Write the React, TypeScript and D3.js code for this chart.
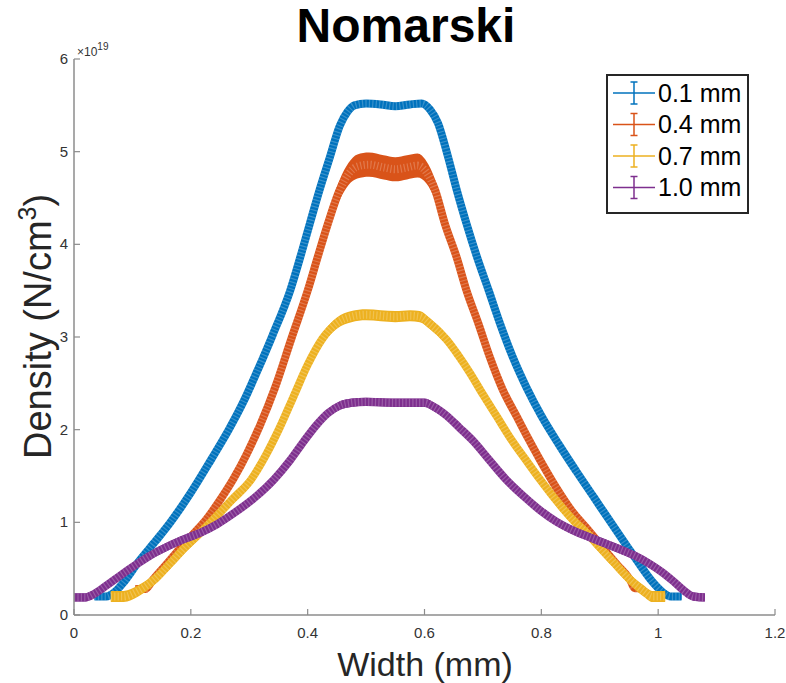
import React from 'react';
import * as d3 from 'd3';

// Density values are in units of 1e19 N/cm^3
const blueWidth = [0.035, 0.055, 0.07, 0.086, 0.11, 0.14, 0.165, 0.2, 0.235, 0.265, 0.29, 0.315, 0.34, 0.37, 0.39, 0.404, 0.42, 0.438, 0.455, 0.468, 0.48, 0.5, 0.525, 0.55, 0.575, 0.595, 0.61, 0.623, 0.64, 0.655, 0.672, 0.69, 0.71, 0.729, 0.75, 0.775, 0.8, 0.83, 0.86, 0.89, 0.92, 0.947, 0.97, 0.99, 1.007, 1.022, 1.04];
const blueDensity = [0.2, 0.2, 0.25, 0.36, 0.57, 0.8, 1.0, 1.32, 1.68, 2.0, 2.3, 2.65, 3.02, 3.5, 3.92, 4.23, 4.58, 4.94, 5.28, 5.43, 5.5, 5.52, 5.51, 5.49, 5.51, 5.52, 5.45, 5.31, 4.95, 4.59, 4.22, 3.86, 3.5, 3.15, 2.8, 2.45, 2.15, 1.84, 1.55, 1.27, 0.99, 0.74, 0.53, 0.36, 0.25, 0.2, 0.2];

const orangeWidth = [0.105, 0.122, 0.135, 0.16, 0.183, 0.205, 0.225, 0.25, 0.274, 0.296, 0.318, 0.344, 0.372, 0.4, 0.418, 0.435, 0.455, 0.47, 0.485, 0.505, 0.53, 0.55, 0.57, 0.588, 0.603, 0.618, 0.635, 0.655, 0.672, 0.692, 0.712, 0.734, 0.758, 0.778, 0.798, 0.825, 0.855, 0.88, 0.906, 0.93, 0.952, 0.96, 0.972];
const orangeDensity = [0.28, 0.28, 0.38, 0.56, 0.73, 0.88, 1.02, 1.24, 1.48, 1.74, 2.04, 2.45, 2.98, 3.5, 3.88, 4.23, 4.59, 4.76, 4.84, 4.86, 4.83, 4.81, 4.83, 4.85, 4.78, 4.59, 4.22, 3.86, 3.5, 3.15, 2.78, 2.43, 2.14, 1.9, 1.67, 1.38, 1.1, 0.92, 0.72, 0.54, 0.38, 0.29, 0.29];
const orangeError = [0.04, 0.04, 0.05, 0.05, 0.05, 0.05, 0.05, 0.05, 0.05, 0.06, 0.06, 0.06, 0.07, 0.08, 0.09, 0.1, 0.11, 0.12, 0.13, 0.13, 0.13, 0.13, 0.13, 0.13, 0.12, 0.11, 0.1, 0.09, 0.08, 0.07, 0.06, 0.06, 0.06, 0.05, 0.05, 0.05, 0.05, 0.05, 0.05, 0.05, 0.05, 0.04, 0.04];

const yellowWidth = [0.063, 0.085, 0.11, 0.137, 0.165, 0.19, 0.215, 0.24, 0.27, 0.303, 0.328, 0.352, 0.376, 0.4, 0.425, 0.45, 0.475, 0.5, 0.55, 0.575, 0.592, 0.61, 0.638, 0.658, 0.678, 0.7, 0.724, 0.75, 0.775, 0.798, 0.825, 0.855, 0.88, 0.9, 0.925, 0.952, 0.975, 0.99, 1.012];
const yellowDensity = [0.2, 0.2, 0.26, 0.38, 0.56, 0.73, 0.88, 1.04, 1.24, 1.46, 1.72, 2.02, 2.36, 2.7, 2.98, 3.15, 3.22, 3.24, 3.22, 3.23, 3.22, 3.14, 2.97, 2.8, 2.61, 2.38, 2.14, 1.88, 1.66, 1.46, 1.24, 1.02, 0.87, 0.73, 0.56, 0.38, 0.26, 0.2, 0.2];

const purpleWidth = [0.0, 0.02, 0.035, 0.056, 0.08, 0.103, 0.13, 0.154, 0.185, 0.217, 0.245, 0.274, 0.31, 0.342, 0.37, 0.394, 0.415, 0.435, 0.455, 0.475, 0.5, 0.55, 0.6, 0.615, 0.638, 0.66, 0.683, 0.71, 0.74, 0.77, 0.798, 0.825, 0.855, 0.89, 0.93, 0.96, 0.986, 1.005, 1.025, 1.045, 1.06, 1.08];
const purpleDensity = [0.19, 0.19, 0.23, 0.32, 0.43, 0.53, 0.64, 0.72, 0.81, 0.89, 0.98, 1.1, 1.27, 1.46, 1.67, 1.88, 2.05, 2.18, 2.26, 2.29, 2.3, 2.29, 2.29, 2.25, 2.15, 2.02, 1.88, 1.68, 1.46, 1.28, 1.13, 1.01, 0.91, 0.82, 0.72, 0.64, 0.55, 0.47, 0.37, 0.26, 0.2, 0.19];

const seriesLabels = ['0.1 mm', '0.4 mm', '0.7 mm', '1.0 mm'];
const seriesColors = ['#0072BD', '#D95319', '#EDB120', '#7E2F8E'];
const constError = [0.035, 0, 0.06, 0.045];

const xTicks = [0, 0.2, 0.4, 0.6, 0.8, 1, 1.2];
const yTicks = [0, 1, 2, 3, 4, 5, 6];

const FONT = '"Liberation Sans", Arial, Helvetica, sans-serif';

type Pt = { x: number; y: number; e: number };

const App: React.FC = () => {
  const width = 786;
  const height = 683;
  const xScale = d3.scaleLinear().domain([0, 1.2]).range([74, 775]);
  const yScale = d3.scaleLinear().domain([0, 6]).range([615, 59]);

  const build = (xs: number[], ys: number[], err: number[] | number): Pt[] =>
    xs.map((x, i) => ({ x, y: ys[i], e: Array.isArray(err) ? err[i] : err }));

  const series: Pt[][] = [
    build(blueWidth, blueDensity, constError[0]),
    build(orangeWidth, orangeDensity, orangeError),
    build(yellowWidth, yellowDensity, constError[2]),
    build(purpleWidth, purpleDensity, constError[3]),
  ];

  const line = d3.line<Pt>()
    .curve(d3.curveMonotoneX)
    .x(d => xScale(d.x))
    .y(d => yScale(d.y));

  const band = d3.area<Pt>()
    .curve(d3.curveMonotoneX)
    .x(d => xScale(d.x))
    .y0(d => yScale(d.y - d.e))
    .y1(d => yScale(d.y + d.e));

  const axisColor = '#8c8c8c';
  const tickColor = '#333';

  const legendX = 607;
  const legendY = 75;
  const rowH = 31.5;

  return (
    <svg width={width} height={height} style={{ position: 'absolute', left: 0, top: 0, background: '#fff' }}
      fontFamily={FONT}>
      <rect x={0} y={0} width={width} height={height} fill="#fff" />

      {/* series */}
      {series.map((pts, i) => (
        <g key={i}>
          <path d={band(pts) || ''} fill={seriesColors[i]} />
          <path d={line(pts) || ''} fill="none" stroke={seriesColors[i]} strokeWidth={8} strokeLinejoin="round" />
          <path d={line(pts) || ''} fill="none" stroke="#fff" strokeOpacity={0.22} strokeWidth={8}
            strokeDasharray="1.2 2.2" />
        </g>
      ))}

      {/* axes */}
      <line x1={xScale(0)} x2={xScale(1.2)} y1={yScale(0)} y2={yScale(0)} stroke={axisColor} strokeWidth={1.5} />
      <line x1={xScale(0)} x2={xScale(0)} y1={yScale(0)} y2={yScale(6)} stroke={axisColor} strokeWidth={1.5} />
      {xTicks.map(t => (
        <g key={'x' + t}>
          <line x1={xScale(t)} x2={xScale(t)} y1={yScale(0)} y2={yScale(0) - 6} stroke={axisColor} strokeWidth={1.2} />
          <text x={xScale(t)} y={638} textAnchor="middle" fontSize={15} fill={tickColor}>{t}</text>
        </g>
      ))}
      {yTicks.map(t => (
        <g key={'y' + t}>
          <line x1={xScale(0)} x2={xScale(0) + 6} y1={yScale(t)} y2={yScale(t)} stroke={axisColor} strokeWidth={1.2} />
          <text x={68} y={yScale(t) + 5} textAnchor="end" fontSize={15} fill={tickColor}>{t}</text>
        </g>
      ))}
      <text x={77} y={56} fontSize={12} fill={tickColor}>×10<tspan fontSize={10} dy={-6}>19</tspan></text>

      {/* title & labels */}
      <text x={406} y={42} textAnchor="middle" fontSize={48} fontWeight="bold" fill="#000">Nomarski</text>
      <text x={425} y={676} textAnchor="middle" fontSize={34} fill="#262626">Width (mm)</text>
      <text transform="translate(51,459) rotate(-90)" textAnchor="start" fontSize={38} fill="#262626">
        Density (N/cm<tspan fontSize={25} dy={-15}>3</tspan><tspan dy={15}>)</tspan>
      </text>

      {/* legend */}
      <rect x={legendX} y={legendY} width={141} height={138} fill="#fff" stroke="#262626" strokeWidth={2} />
      {seriesLabels.map((lab, i) => {
        const cy = legendY + 18 + i * rowH;
        const c = seriesColors[i];
        return (
          <g key={lab}>
            <line x1={613} x2={655} y1={cy} y2={cy} stroke={c} strokeWidth={1.5} />
            <line x1={634} x2={634} y1={cy - 11} y2={cy + 11} stroke={c} strokeWidth={1.5} />
            <line x1={630.5} x2={637.5} y1={cy - 11} y2={cy - 11} stroke={c} strokeWidth={1.5} />
            <line x1={630.5} x2={637.5} y1={cy + 11} y2={cy + 11} stroke={c} strokeWidth={1.5} />
            <text x={658} y={cy + 8.5} fontSize={25} fill="#000">{lab}</text>
          </g>
        );
      })}
    </svg>
  );
};

export default App;
